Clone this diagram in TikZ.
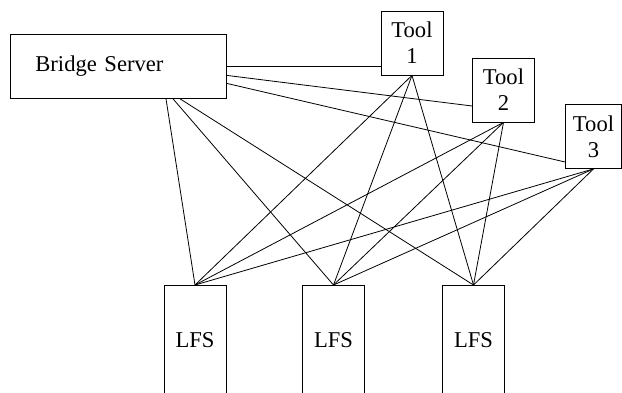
\documentclass[tikz,border=0pt]{standalone}
\usepackage{fontspec}
\setmainfont{Liberation Serif}
\tikzset{
	box/.style={draw, line width=0.8pt, inner sep=0pt, font=\fontsize{22.6}{26}\selectfont},
	toolbox/.style={box, minimum width=62pt, minimum height=64pt, align=center},
	lfsbox/.style={box, anchor=north, minimum width=62pt, minimum height=110pt},
	link/.style={line width=0.8pt}
}
\begin{document}
\begin{tikzpicture}[x=1pt, y=-1pt]
		\useasboundingbox (0, 0) rectangle (622, 392);
		\clip (0, 0) rectangle (622, 392);
		
		\node[box, anchor=north west, minimum height=64pt, text width=166pt, inner xsep=25pt, align=left] (bridge) at (10, 34) {Bridge Server};
		
		\node[toolbox] (tool1) at (412, 43) {Tool\\1};
		\node[toolbox] (tool2) at (503.5, 90) {Tool\\2};
		\node[toolbox, minimum width=56pt] (tool3) at (593.5, 136.5) {Tool\\3};
		
		\node[lfsbox] (lfs1) at (195, 285) {LFS};
		\node[lfsbox] (lfs2) at (333.5, 285) {LFS};
		\node[lfsbox] (lfs3) at (473.5, 285) {LFS};
		
		\draw[link] (bridge.east) -- (bridge.east -| tool1.west);
		\draw[link] ([yshift=-9pt]bridge.east) -- ([yshift=-16pt]tool2.west);
		\draw[link] ([yshift=-17pt]bridge.east) -- ([yshift=-25.5pt]tool3.west);
		
		\draw[link] ([xshift=156pt]bridge.south west) -- (lfs1.north);
		\draw[link] ([xshift=163pt]bridge.south west) -- (lfs2.north);
		\draw[link] ([xshift=170pt]bridge.south west) -- (lfs3.north);
		
		\draw[link] (tool1.south) -- (lfs1.north);
		\draw[link] (tool1.south) -- (lfs2.north);
		\draw[link] (tool1.south) -- (lfs3.north);
		
		\draw[link] (tool2.south) -- (lfs1.north);
		\draw[link] (tool2.south) -- (lfs2.north);
		\draw[link] (tool2.south) -- (lfs3.north);
		
		\draw[link] (tool3.south) -- (lfs1.north);
		\draw[link] (tool3.south) -- (lfs2.north);
		\draw[link] (tool3.south) -- (lfs3.north);
	\end{tikzpicture}
\end{document}
